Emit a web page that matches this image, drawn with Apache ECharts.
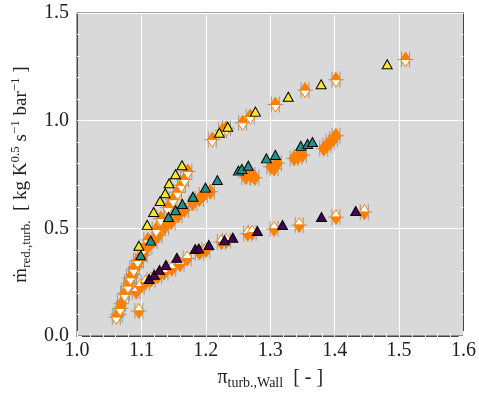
<!DOCTYPE html>
<html>
<head>
<meta charset="utf-8">
<script src="https://cdn.jsdelivr.net/npm/echarts@6/dist/echarts.min.js"></script>
<style>html,body{margin:0;padding:0;background:#fff}#c{width:479px;height:398px}</style>
</head>
<body>
<div id="c"></div>
<script>
// ---- data ----
const xTicks = [1.0, 1.1, 1.2, 1.3, 1.4, 1.5, 1.6];
const yTicks = [0.0, 0.5, 1.0, 1.5];

// measured (triangles)
const yellowMeas = [[1.096,0.419],[1.109,0.516],[1.119,0.576],[1.129,0.627],[1.137,0.663],[1.143,0.709],[1.153,0.751],[1.163,0.793],[1.221,0.944],[1.234,0.972],[1.277,1.042],[1.328,1.111],[1.379,1.169],[1.4815,1.262]];
const tealMeas = [[1.099,0.375],[1.1145,0.443],[1.142,0.553],[1.153,0.584],[1.1635,0.613],[1.180,0.647],[1.1995,0.689],[1.218,0.724],[1.2506,0.768],[1.256,0.776],[1.266,0.791],[1.294,0.825],[1.308,0.841],[1.3475,0.883],[1.358,0.892],[1.3655,0.901]];
const purpleMeas = [[1.112,0.265],[1.12,0.284],[1.128,0.306],[1.138,0.330],[1.155,0.363],[1.1835,0.404],[1.189,0.406],[1.2047,0.423],[1.229,0.4445],[1.242,0.4566],[1.28,0.4877],[1.319,0.5156],[1.3795,0.5527],[1.4326,0.5806]];

// model (orange diamonds)
const yellowModel = [[1.061,0.088],[1.067,0.128],[1.074,0.193],[1.079,0.232],[1.083,0.270],[1.088,0.310],[1.094,0.350],[1.101,0.398],[1.110,0.446],[1.123,0.494],[1.130,0.545],[1.141,0.596],[1.149,0.633],[1.156,0.668],[1.162,0.700],[1.167,0.727],[1.172,0.764],[1.210,0.912],[1.226,0.955],[1.232,0.965],[1.257,0.990],[1.269,1.019],[1.308,1.075],[1.354,1.142],[1.402,1.190],[1.510,1.284]];
const tealModel = [[1.064,0.100],[1.069,0.150],[1.075,0.200],[1.080,0.245],[1.086,0.285],[1.091,0.320],[1.097,0.350],[1.1026,0.376],[1.110,0.415],[1.118,0.440],[1.126,0.467],[1.136,0.505],[1.146,0.528],[1.157,0.560],[1.167,0.585],[1.180,0.616],[1.190,0.636],[1.196,0.655],[1.207,0.670],[1.262,0.738],[1.270,0.748],[1.276,0.735],[1.301,0.786],[1.306,0.778],[1.311,0.802],[1.337,0.825],[1.343,0.832],[1.350,0.840],[1.383,0.870],[1.388,0.885],[1.393,0.900],[1.398,0.915],[1.402,0.930]];
const purpleModel = [[1.096,0.116],[1.092,0.206],[1.098,0.229],[1.106,0.247],[1.115,0.262],[1.125,0.278],[1.135,0.294],[1.147,0.312],[1.160,0.333],[1.171,0.360],[1.190,0.388],[1.200,0.398],[1.224,0.436],[1.232,0.442],[1.265,0.475],[1.272,0.480],[1.306,0.497],[1.345,0.515],[1.402,0.552],[1.446,0.575]];

const ORANGE = '#ff8000';
const FONT = 'Liberation Serif';

function diamondSeries(data, topFill, botFill, z) {
  return {
    type: 'custom', data: data, z: z, clip: true,
    encode: {x: 0, y: 1},
    renderItem: function (params, api) {
      const p = api.coord([api.value(0), api.value(1)]);
      const w = 5, h = 7.5;
      return {type: 'group', children: [
        {type: 'polygon', shape: {points: [[p[0]-w,p[1]],[p[0],p[1]-h],[p[0]+w,p[1]]]}, style: {fill: topFill, stroke: ORANGE, lineWidth: 1}},
        {type: 'polygon', shape: {points: [[p[0]-w,p[1]],[p[0],p[1]+h],[p[0]+w,p[1]]]}, style: {fill: botFill, stroke: ORANGE, lineWidth: 1}}
      ]};
    }
  };
}
function errSeries(data) {
  return {
    type: 'custom', data: data, z: 1, clip: true,
    encode: {x: 0, y: 1},
    renderItem: function (params, api) {
      const p = api.coord([api.value(0), api.value(1)]);
      const st = {stroke: '#8e8e8e', lineWidth: 1, opacity: 0.85};
      return {type: 'group', children: [
        {type: 'line', shape: {x1: p[0]-8, y1: p[1], x2: p[0]+8, y2: p[1]}, style: st},
        {type: 'line', shape: {x1: p[0]-4, y1: p[1]-8, x2: p[0]-4, y2: p[1]+8}, style: st},
        {type: 'line', shape: {x1: p[0]+4, y1: p[1]-8, x2: p[0]+4, y2: p[1]+8}, style: st}
      ]};
    }
  };
}
function triSeries(data, color) {
  return {type: 'scatter', data: data, symbol: 'triangle', symbolSize: [10, 9], z: 10,
    itemStyle: {color: color, borderColor: '#000', borderWidth: 1, opacity: 1}};
}

const common = {
  axisLine: {show: true, lineStyle: {color: '#444', width: 1}},
  axisTick: {show: true, inside: true, length: 5, lineStyle: {color: '#f4f4f4'}},
  minorTick: {show: true, splitNumber: 5, length: 3, lineStyle: {color: '#f4f4f4'}},
};

const allModel = yellowModel.concat(tealModel, purpleModel);

const chart = echarts.init(document.getElementById('c'), null, {renderer: 'canvas'});
chart.setOption({
  animation: false,
  grid: {left: 77, right: 15, top: 13, bottom: 62, show: true, backgroundColor: '#d9d9d9', borderColor: '#444', borderWidth: 1},
  xAxis: [
    Object.assign({type: 'value', position: 'bottom', min: xTicks[0], max: xTicks[xTicks.length-1], interval: 0.1,
      axisLabel: {fontFamily: FONT, fontSize: 20, color: '#222', margin: 5, formatter: v => v.toFixed(1)},
      splitLine: {show: true, lineStyle: {color: '#fff', width: 1}},
      name: '{m|π}{s|turb.,Wall}{m|  [ - ]}', nameLocation: 'middle', nameGap: 30,
      nameTextStyle: {fontFamily: FONT, color: '#222', rich: {
        m: {fontFamily: FONT, fontSize: 20, lineHeight: 24, color: '#222'},
        s: {fontFamily: FONT, fontSize: 14, lineHeight: 12, verticalAlign: 'bottom', color: '#222'}}}
    }, common),
    Object.assign({type: 'value', position: 'top', min: xTicks[0], max: xTicks[xTicks.length-1], interval: 0.1,
      axisLabel: {show: false}, splitLine: {show: false}}, common)
  ],
  yAxis: [
    Object.assign({type: 'value', position: 'left', min: yTicks[0], max: yTicks[yTicks.length-1], interval: 0.5,
      axisLabel: {fontFamily: FONT, fontSize: 20, color: '#222', margin: 8, formatter: v => v.toFixed(1)},
      splitLine: {show: true, lineStyle: {color: '#fff', width: 1}},
      name: '{m|ṁ}{s|red.,turb.}{m|  [ kg K}{p|0.5}{m| s}{p|−1}{m| bar}{p|−1}{m| ]}', nameLocation: 'middle', nameGap: 44, nameRotate: 90,
      nameTextStyle: {fontFamily: FONT, color: '#222', rich: {
        m: {fontFamily: FONT, fontSize: 19, lineHeight: 24, color: '#222'},
        s: {fontFamily: FONT, fontSize: 13, lineHeight: 12, verticalAlign: 'bottom', color: '#222'},
        p: {fontFamily: FONT, fontSize: 13, lineHeight: 12, verticalAlign: 'top', color: '#222'}}}
    }, common),
    Object.assign({type: 'value', position: 'right', min: yTicks[0], max: yTicks[yTicks.length-1], interval: 0.5,
      axisLabel: {show: false}, splitLine: {show: false}}, common)
  ],
  series: [
    errSeries(allModel),
    diamondSeries(tealModel, ORANGE, ORANGE, 3),
    diamondSeries(purpleModel, '#ffffff', ORANGE, 4),
    diamondSeries(yellowModel, ORANGE, '#ffffff', 5),
    triSeries(yellowMeas, '#fde725'),
    triSeries(tealMeas, '#21918c'),
    triSeries(purpleMeas, '#440154')
  ]
});
</script>
</body>
</html>
